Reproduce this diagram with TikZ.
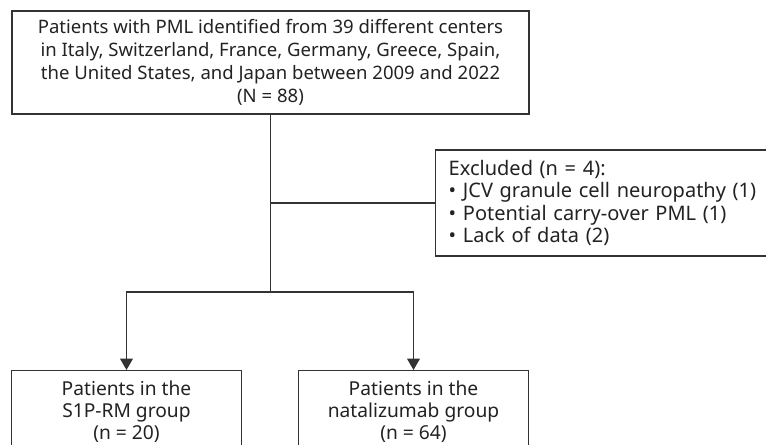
\documentclass[tikz,border=0pt]{standalone}
\usepackage{fontspec}
\setmainfont{Noto Sans}
\usetikzlibrary{arrows.meta}
\usepackage{xcolor}
\definecolor{inkgray}{RGB}{34,34,34}
\definecolor{linegray}{RGB}{51,51,51}
\tikzset{
  flowbox/.style={draw=linegray,line width=1.1pt,rectangle,inner sep=0pt,
                  text=inkgray,font=\fontsize{13.9}{17.3}\selectfont},
  groupbox/.style={flowbox,anchor=north,minimum width=172.5pt,minimum height=61.5pt,
                   align=center,font=\fontsize{14.4}{16.5}\selectfont},
  flowline/.style={draw=linegray,line width=1.1pt},
  flowarrow/.style={flowline,-{Triangle[width=9.5pt,length=8.5pt]}}
}

\begin{document}
\begin{tikzpicture}[x=0.75pt,y=-0.75pt]
        \useasboundingbox (0,0) rectangle (766,444);
        \clip (0,0) rectangle (766,444);
        \node[flowbox,minimum width=387.75pt,minimum height=77.25pt,align=center]
          (cohort) at (270.5,62.5)
          {Patients with PML identified from 39 different centers\\
           in Italy, Switzerland, France, Germany, Greece, Spain,\\
           the United States, and Japan between 2009 and 2022\\
           (N = 88)};
        \node[flowbox,anchor=west,minimum height=79.5pt,text width=260pt,
              inner xsep=9.75pt,align=left,font=\fontsize{15}{16.7}\selectfont]
          (excluded) at (435,203)
          {Excluded (n = 4):\\
           • JCV granule cell neuropathy (1)\\
           • Potential carry-over PML (1)\\
           • Lack of data (2)};
        \node[groupbox] (s1p) at (126.5,370)
          {Patients in the\\S1P-RM group\\(n = 20)};
        \node[groupbox] (natal) at (413.5,370)
          {Patients in the\\natalizumab group\\(n = 64)};
        \coordinate (split) at (cohort.south |- 0,292);
        \coordinate (sidejoin) at (cohort.south |- excluded.west);
        \draw[flowline] (cohort.south) -- (split);
        \draw[flowline] (sidejoin) -- (excluded.west);
        \draw[flowarrow] (split) -| (s1p.north);
        \draw[flowarrow] (split) -| (natal.north);
      \end{tikzpicture}
\end{document}
